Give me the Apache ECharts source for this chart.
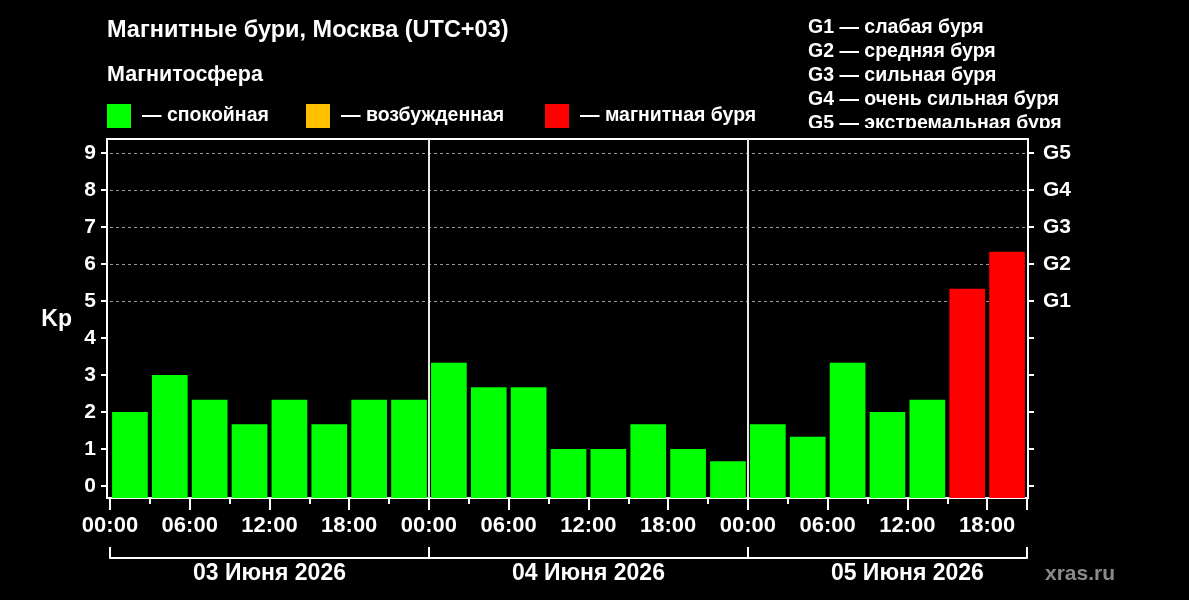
<!DOCTYPE html>
<html><head><meta charset="utf-8">
<script src="https://cdn.jsdelivr.net/npm/echarts@6/dist/echarts.min.js"></script>
<style>html,body{margin:0;background:#000}#c{width:1189px;height:600px}</style>
</head><body><div id="c"></div>
<script>
// ---- data ----
const days = ['03 Июня 2026', '04 Июня 2026', '05 Июня 2026'];
const kpDay1 = [2, 3, 2.33, 1.67, 2.33, 1.67, 2.33, 2.33];
const kpDay2 = [3.33, 2.67, 2.67, 1, 1, 1.67, 1, 0.67];
const kpDay3 = [1.67, 1.33, 3.33, 2, 2.33, 5.33, 6.33];
const kpTicks = [0, 1, 2, 3, 4, 5, 6, 7, 8, 9];
const gLabels = ['G1', 'G2', 'G3', 'G4', 'G5'];            // Kp 5..9
const gNames = ['слабая буря', 'средняя буря', 'сильная буря', 'очень сильная буря', 'экстремальная буря'];
const legendNames = ['спокойная', 'возбужденная', 'магнитная буря'];
const legendColors = ['#00ff00', '#ffc000', '#ff0000'];
const title = 'Магнитные бури, Москва (UTC+03)';
const subTitle = 'Магнитосфера';
const slotHours = 3;

// ---- derived ----
const kpAll = [...kpDay1, ...kpDay2, ...kpDay3];
const totalH = kpAll.length * slotHours;
const bars = kpAll.map((v, i) => [i * slotHours + slotHours / 2, v]);
const colorFor = v => v >= 5 ? legendColors[2] : (v >= 4 ? legendColors[1] : legendColors[0]);

const FONT = '"Liberation Sans", Arial, sans-serif';
const W = 1189, H = 600;
const dL = 110, dR = 1027, dT = 153, dB = 486;      // data grid
const fL = 107, fR = 1028, fT = 139, fB = 498;      // frame
const pxPerH = (dR - dL) / totalH;
const pxPerKp = (dB - dT) / 9;
const frameXMin = -(dL - fL) / pxPerH, frameXMax = totalH + (fR - dR) / pxPerH;
const frameYMin = -(fB - dB) / pxPerKp, frameYMax = 9 + (dT - fT) / pxPerKp;
const barFrac = 0.895;
const pad2 = n => (n < 10 ? '0' : '') + n;
const white = '#ffffff';
const lbl = (size, extra) => Object.assign({ color: white, fontFamily: FONT, fontWeight: 'bold', fontSize: size }, extra || {});

const splitColors = kpTicks.map(v => v >= 5 ? '#9a9a9a' : 'rgba(0,0,0,0)');

const chart = echarts.init(document.getElementById('c'));
const graphic = [];
graphic.push({ type: 'text', x: 107, y: 31, style: { text: title, fill: white, font: 'bold 23.5px ' + FONT, verticalAlign: 'middle' } });
graphic.push({ type: 'text', x: 107, y: 75, style: { text: subTitle, fill: white, font: 'bold 21.5px ' + FONT, verticalAlign: 'middle' } });
const legX = [107, 306, 545];
legendNames.forEach((n, i) => {
  graphic.push({ type: 'rect', shape: { x: legX[i], y: 104, width: 24, height: 24 }, style: { fill: legendColors[i] } });
  graphic.push({ type: 'text', x: legX[i] + 35, y: 116, style: { text: '— ' + n, fill: white, font: 'bold 19.5px ' + FONT, verticalAlign: 'middle' } });
});
graphic.push({ type: 'text', x: 808, y: 15.5, style: { text: gLabels.map((g, i) => g + ' — ' + gNames[i]).join('\n'), fill: white, font: 'bold 19.5px ' + FONT, lineHeight: 24, verticalAlign: 'top' } });
graphic.push({ type: 'rect', z: 10, shape: { x: 790, y: 128, width: 300, height: 10 }, style: { fill: '#000' } });
graphic.push({ type: 'text', x: 1045, y: 574, style: { text: 'xras.ru', fill: '#8a8a8a', font: 'bold 21px ' + FONT, verticalAlign: 'middle' } });

const lineW = { lineStyle: { color: white, width: 2 } };
chart.setOption({
  backgroundColor: '#000',
  animation: false,
  graphic,
  grid: [
    { left: fL, right: W - fR, top: fT, bottom: H - fB },
    { left: dL, right: W - dR, top: dT, bottom: H - dB }
  ],
  xAxis: [
    { gridIndex: 0, type: 'value', min: frameXMin, max: frameXMax, position: 'bottom',
      axisLine: Object.assign({ show: true, onZero: false }, lineW), axisTick: { show: false }, axisLabel: { show: false }, splitLine: { show: false } },
    { gridIndex: 0, type: 'value', min: frameXMin, max: frameXMax, position: 'top',
      axisLine: Object.assign({ show: true, onZero: false }, lineW), axisTick: { show: false }, axisLabel: { show: false }, splitLine: { show: false } },
    { gridIndex: 1, type: 'value', min: 0, max: totalH, interval: 3, position: 'bottom', offset: fB - dB,
      axisLine: { show: false, onZero: false }, axisTick: { show: true, length: 6, lineStyle: { color: white, width: 2 } },
      axisLabel: { show: false }, splitLine: { show: false } },
    { gridIndex: 1, type: 'value', min: 0, max: totalH, interval: 6, position: 'bottom', offset: fB - dB,
      axisLine: { show: false, onZero: false }, axisTick: { show: true, length: 12, lineStyle: { color: white, width: 2 } },
      axisLabel: lbl(22, { margin: 17, showMinLabel: true, showMaxLabel: true,
        formatter: v => (v % 6 === 0 && v < totalH) ? pad2(v % 24) + ':00' : '' }),
      splitLine: { show: false } },
    { gridIndex: 1, type: 'value', min: 0, max: totalH, interval: 24, position: 'bottom', offset: 72,
      axisLine: Object.assign({ show: true, onZero: false }, lineW),
      axisTick: { show: true, inside: true, length: 11, lineStyle: { color: white, width: 2 } },
      axisLabel: { show: false }, splitLine: { show: false } },
    { gridIndex: 1, type: 'value', min: 0, max: totalH, interval: 12, position: 'bottom', offset: 72,
      axisLine: { show: false, onZero: false }, axisTick: { show: false },
      axisLabel: lbl(23, { margin: 4, showMinLabel: true, showMaxLabel: true,
        formatter: v => (v % 24 === 12) ? days[(v - 12) / 24] : '' }),
      splitLine: { show: false } }
  ],
  yAxis: [
    { gridIndex: 0, type: 'value', min: frameYMin, max: frameYMax, position: 'left',
      axisLine: Object.assign({ show: true, onZero: false }, lineW), axisTick: { show: false }, axisLabel: { show: false }, splitLine: { show: false } },
    { gridIndex: 0, type: 'value', min: frameYMin, max: frameYMax, position: 'right',
      axisLine: Object.assign({ show: true, onZero: false }, lineW), axisTick: { show: false }, axisLabel: { show: false }, splitLine: { show: false } },
    { gridIndex: 1, type: 'value', min: 0, max: 9, interval: 1, position: 'left', offset: dL - fL,
      name: 'Kp', nameLocation: 'middle', nameRotate: 0, nameGap: 35,
      nameTextStyle: lbl(23),
      axisLine: { show: false, onZero: false }, axisTick: { show: true, length: 6, lineStyle: { color: white, width: 2 } },
      axisLabel: lbl(21, { margin: 11 }),
      splitLine: { show: true, lineStyle: { color: splitColors, width: 1, type: [3, 3] } } },
    { gridIndex: 1, type: 'value', min: 0, max: 9, interval: 1, position: 'right', offset: fR - dR,
      axisLine: { show: false, onZero: false }, axisTick: { show: true, length: 6, lineStyle: { color: white, width: 2 } },
      axisLabel: lbl(21, { margin: 15, formatter: v => v >= 5 ? gLabels[v - 5] : '' }),
      splitLine: { show: false } }
  ],
  series: [
    { type: 'custom', xAxisIndex: 0, yAxisIndex: 0, data: bars, silent: true, encode: { x: 0, y: 1 },
      renderItem: (params, api) => {
        const x = api.value(0), v = api.value(1);
        const p0 = api.coord([x - slotHours / 2 * barFrac, v]);
        const p1 = api.coord([x + slotHours / 2 * barFrac, frameYMin]);
        return { type: 'rect', shape: { x: p0[0], y: p0[1], width: p1[0] - p0[0], height: p1[1] - p0[1] },
                 style: { fill: colorFor(v) } };
      } },
    { type: 'line', xAxisIndex: 0, yAxisIndex: 0, data: [], silent: true,
      markLine: { silent: true, symbol: 'none', label: { show: false },
        lineStyle: { color: '#e8e8e8', width: 2, type: 'solid' },
        data: days.slice(1).map((d, i) => ({ xAxis: (i + 1) * 24 })) } }
  ]
});
</script></body></html>
